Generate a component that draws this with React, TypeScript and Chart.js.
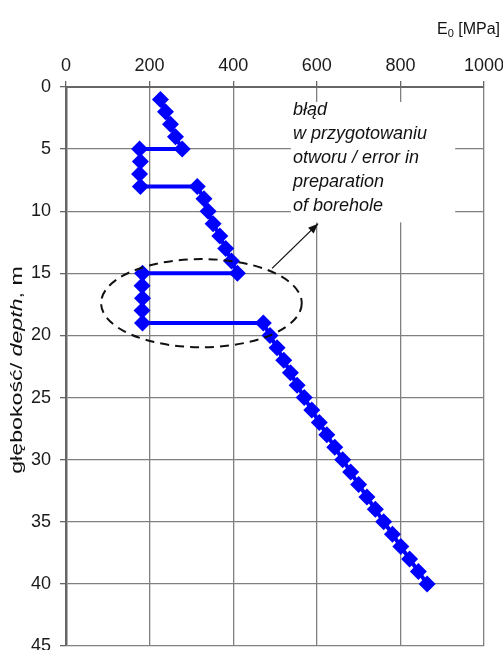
import React, { useEffect, useRef } from "react";
import { Chart, registerables } from "chart.js";

Chart.register(...registerables);

// depth [m] and E0 [MPa] readings (in drawing order)
const depthM: number[] = [
  1, 2, 3, 4, 5,
  5, 6, 7, 8,
  8, 9, 10, 11, 12, 13, 14, 15,
  15, 16, 17, 18, 19,
  19, 20, 21, 22, 23, 24, 25, 26, 27, 28, 29, 30, 31, 32, 33, 34, 35, 36, 37, 38, 39, 40,
];
const e0MPa: number[] = [
  226, 238, 250, 262, 278,
  176, 178, 176, 178,
  314, 330, 340, 352, 368, 382, 396, 410,
  183, 182, 183, 182, 183,
  472, 488, 505, 521, 537, 553, 570, 588, 606, 624, 643, 662, 681, 700, 720, 740, 760, 781, 801, 822, 843, 864,
];

const xTicksMin = 0;
const xTicksMax = 1000;
const xTickStep = 200;
const yTicksMin = 0;
const yTicksMax = 45;
const yTickStep = 5;

const noteLines: string[] = ["błąd", "w przygotowaniu", "otworu / error in", "preparation", "of borehole"];
const xTitleMain = "E";
const xTitleSub = "0";
const xTitleRest = " [MPa]";
const yTitleParts: { text: string; italic: boolean }[] = [
  { text: "głębokość/ ", italic: false },
  { text: "depth", italic: true },
  { text: ", m", italic: false },
];

const FONT = "'Liberation Sans', Arial, sans-serif";

const annotationPlugin = {
  id: "annot",
  beforeDatasetsDraw(chart: any) {
    const { ctx, scales } = chart;
    const x = scales.x;
    const y = scales.y;
    const bx0 = x.getPixelForValue(538);
    const bx1 = x.getPixelForValue(931);
    const by0 = y.getPixelForValue(1.2);
    const by1 = y.getPixelForValue(10.9);
    ctx.save();
    ctx.fillStyle = "#ffffff";
    ctx.fillRect(bx0, by0, bx1 - bx0, by1 - by0);
    ctx.fillStyle = "#111111";
    ctx.font = `italic 18px ${FONT}`;
    ctx.textAlign = "left";
    ctx.textBaseline = "middle";
    const startY = y.getPixelForValue(1.85);
    noteLines.forEach((t, i) => {
      ctx.fillText(t, bx0 + 2, startY + i * 24);
    });
    ctx.restore();
  },
  afterDatasetsDraw(chart: any) {
    const { ctx, scales } = chart;
    const x = scales.x;
    const y = scales.y;
    ctx.save();
    const cx = x.getPixelForValue(324);
    const cy = y.getPixelForValue(17.4);
    const rx = x.getPixelForValue(324 + 240) - cx;
    const ry = y.getPixelForValue(17.4 + 3.55) - cy;
    ctx.strokeStyle = "#111111";
    ctx.lineWidth = 2;
    ctx.setLineDash([9, 6]);
    ctx.beginPath();
    ctx.ellipse(cx, cy, rx, ry, 0, 0, Math.PI * 2);
    ctx.stroke();
    ctx.setLineDash([]);
    const ax0 = x.getPixelForValue(493);
    const ay0 = y.getPixelForValue(14.6);
    const ax1 = x.getPixelForValue(603);
    const ay1 = y.getPixelForValue(11.0);
    ctx.lineWidth = 1.3;
    ctx.beginPath();
    ctx.moveTo(ax0, ay0);
    ctx.lineTo(ax1, ay1);
    ctx.stroke();
    const ang = Math.atan2(ay1 - ay0, ax1 - ax0);
    const hl = 10;
    const hw = 4;
    ctx.fillStyle = "#111111";
    ctx.beginPath();
    ctx.moveTo(ax1, ay1);
    ctx.lineTo(ax1 - hl * Math.cos(ang) + hw * Math.sin(ang), ay1 - hl * Math.sin(ang) - hw * Math.cos(ang));
    ctx.lineTo(ax1 - hl * Math.cos(ang) - hw * Math.sin(ang), ay1 - hl * Math.sin(ang) + hw * Math.cos(ang));
    ctx.closePath();
    ctx.fill();
    ctx.restore();
  },
  afterDraw(chart: any) {
    const { ctx } = chart;
    ctx.save();
    ctx.fillStyle = "#111111";
    ctx.textBaseline = "alphabetic";
    ctx.textAlign = "left";
    ctx.font = `16px ${FONT}`;
    const restW = ctx.measureText(xTitleRest).width;
    ctx.font = `11px ${FONT}`;
    const subW = ctx.measureText(xTitleSub).width;
    ctx.font = `16px ${FONT}`;
    const mainW = ctx.measureText(xTitleMain).width;
    const right = 500;
    const base = 34;
    let px = right - restW - subW - mainW;
    ctx.fillText(xTitleMain, px, base);
    px += mainW;
    ctx.font = `11px ${FONT}`;
    ctx.fillText(xTitleSub, px, base + 3);
    px += subW;
    ctx.font = `16px ${FONT}`;
    ctx.fillText(xTitleRest, px, base);

    ctx.translate(18, 370);
    ctx.rotate(-Math.PI / 2);
    ctx.scale(1.45, 1);
    let total = 0;
    yTitleParts.forEach((p) => {
      ctx.font = `${p.italic ? "italic " : ""}16px ${FONT}`;
      total += ctx.measureText(p.text).width;
    });
    let tx = -total / 2;
    ctx.textBaseline = "middle";
    yTitleParts.forEach((p) => {
      ctx.font = `${p.italic ? "italic " : ""}16px ${FONT}`;
      ctx.fillText(p.text, tx, 0);
      tx += ctx.measureText(p.text).width;
    });
    ctx.restore();
  },
};

export default function App() {
  const ref = useRef<HTMLCanvasElement | null>(null);
  useEffect(() => {
    if (!ref.current) return;
    const points = depthM.map((d, i) => ({ x: e0MPa[i], y: d }));
    const chart = new Chart(ref.current, {
      type: "line",
      data: {
        datasets: [
          {
            data: points,
            borderColor: "#0000ff",
            backgroundColor: "#0000ff",
            borderWidth: 4,
            pointStyle: "rectRot",
            pointRadius: 8.5,
            pointBorderWidth: 0,
            pointBackgroundColor: "#0000ff",
            fill: false,
            tension: 0,
          },
        ],
      },
      options: {
        responsive: false,
        animation: false,
        events: [],
        layout: { padding: { left: 0, top: 0, right: 19, bottom: 24 } },
        plugins: { legend: { display: false }, tooltip: { enabled: false } },
        scales: {
          x: {
            type: "linear",
            position: "top",
            min: xTicksMin,
            max: xTicksMax,
            ticks: {
              stepSize: xTickStep,
              color: "#1a1a1a",
              font: { family: FONT, size: 18 },
              padding: 4,
              maxRotation: 0,
              callback: (v: any) => String(v),
            },
            grid: { color: "#808080", lineWidth: 1.3, tickLength: 6, tickColor: "#666666" },
            border: { color: "#666666", width: 2 },
            afterFit(scale: any) {
              scale.height = 87;
              scale.paddingLeft = 0;
              scale.paddingRight = 0;
            },
          },
          y: {
            type: "linear",
            reverse: true,
            min: yTicksMin,
            max: yTicksMax,
            ticks: {
              stepSize: yTickStep,
              color: "#1a1a1a",
              font: { family: FONT, size: 18 },
              padding: 9,
              callback: (v: any) => String(v),
            },
            grid: { color: "#808080", lineWidth: 1.3, tickLength: 6, tickColor: "#666666" },
            border: { color: "#666666", width: 2.5 },
            afterFit(scale: any) {
              scale.width = 66;
              scale.paddingTop = 0;
              scale.paddingBottom = 0;
            },
          },
        },
      },
      plugins: [annotationPlugin],
    });
    return () => chart.destroy();
  }, []);
  return (
    <div style={{ position: "absolute", left: 0, top: 0, width: 503, height: 650, overflow: "hidden", background: "#fff" }}>
      <canvas ref={ref} width={503} height={670} style={{ width: 503, height: 670, display: "block" }} />
    </div>
  );
}
